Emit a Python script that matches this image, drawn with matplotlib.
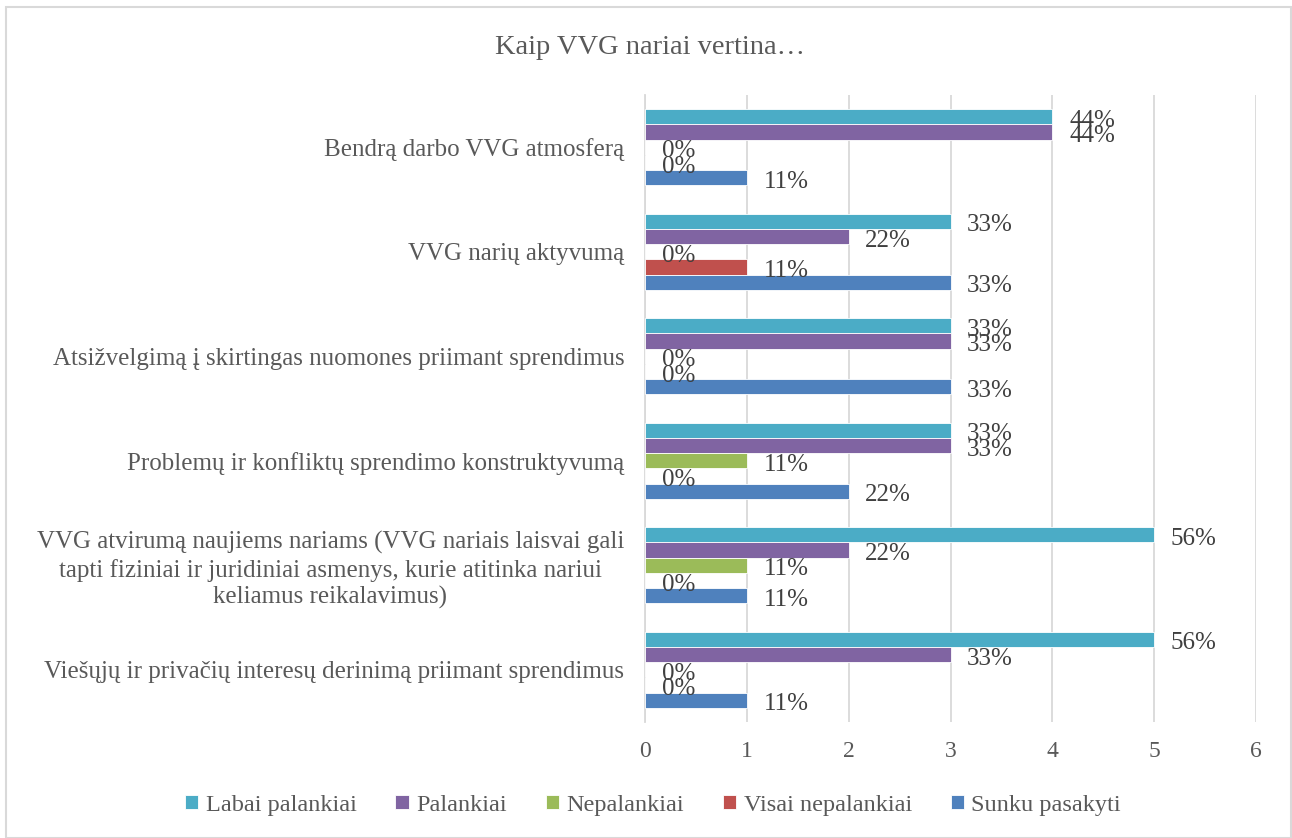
import matplotlib
matplotlib.use("Agg")
import numpy as np
import matplotlib.pyplot as plt
from matplotlib.patches import Rectangle

plt.rcParams['font.family'] = ['Liberation Serif', 'DejaVu Serif']

# data
categories = [
    "Bendrą darbo VVG atmosferą",
    "VVG narių aktyvumą",
    "Atsižvelgimą į skirtingas nuomones priimant sprendimus",
    "Problemų ir konfliktų sprendimo konstruktyvumą",
    "VVG atvirumą naujiems nariams (VVG nariais laisvai gali\ntapti fiziniai ir juridiniai asmenys, kurie atitinka nariui\nkeliamus reikalavimus)",
    "Viešųjų ir privačių interesų derinimą priimant sprendimus",
]
series = ["Labai palankiai", "Palankiai", "Nepalankiai", "Visai nepalankiai", "Sunku pasakyti"]
labai_palankiai = [4, 3, 3, 3, 5, 5]
palankiai = [4, 2, 3, 3, 2, 3]
nepalankiai = [0, 0, 0, 1, 1, 0]
visai_nepalankiai = [0, 1, 0, 0, 0, 0]
sunku_pasakyti = [1, 3, 3, 2, 1, 1]
respondents = 9
colors = ["#4BACC6", "#8064A2", "#9BBB59", "#C0504D", "#4F81BD"]

values = [labai_palankiai, palankiai, nepalankiai, visai_nepalankiai, sunku_pasakyti]

W, H = 1292, 838
fig = plt.figure(figsize=(W / 100, H / 100), dpi=100)
ax = fig.add_axes([645 / W, 1 - 722 / H, 611 / W, 627 / H])

text_col = "#595959"
h = 0.146
y = np.arange(len(categories))
for k, (name, vals, c) in enumerate(zip(series, values, colors)):
    pos = y + (k - 2) * h
    ax.barh(pos, vals, height=h, color=c, label=name, edgecolor="white", linewidth=0.6, zorder=3)
    for p, v in zip(pos, vals):
        # zero labels only appear for the middle series
        if v == 0 and k in (0, 1, 4):
            continue
        ax.annotate(f"{round(v / respondents * 100)}%", (v, p), xytext=(12, -3),
                    textcoords="offset points", va="center", ha="left",
                    fontsize=18, color="#404040", zorder=4)

ax.set_xlim(0, 6)
ax.set_ylim(len(categories) - 0.5, -0.5)
ax.set_xticks(range(7))
ax.tick_params(axis="x", length=0, labelsize=17, labelcolor=text_col, pad=14)
ax.set_yticks(y)
ax.set_yticklabels(categories, fontsize=18, color=text_col, ha="right",
                   multialignment="center", linespacing=1.25)
ax.tick_params(axis="y", length=0, pad=15)

ax.grid(axis="x", color="#D9D9D9", linewidth=1.3, zorder=0)
for s in ["top", "right", "bottom"]:
    ax.spines[s].set_visible(False)
ax.spines["left"].set_color("#D9D9D9")
ax.spines["left"].set_linewidth(1.3)

fig.text(650 / W, 1 - 48 / H, "Kaip VVG nariai vertina…", ha="center", va="center",
         fontsize=20.5, color=text_col)

handles, labels = ax.get_legend_handles_labels()
fig.legend(handles, labels, loc="center", bbox_to_anchor=(653 / W, 1 - 805 / H), ncol=5,
           frameon=False, fontsize=17.5, handlelength=0.55, handleheight=0.55,
           handletextpad=0.3, columnspacing=1.6, labelcolor=text_col)

fig.patches.append(Rectangle((6 / W, 0), 1285 / W, 1 - 7 / H, transform=fig.transFigure,
                             fill=False, edgecolor="#D9D9D9", linewidth=1.5))

fig.savefig("out.png", dpi=100, facecolor="white")
